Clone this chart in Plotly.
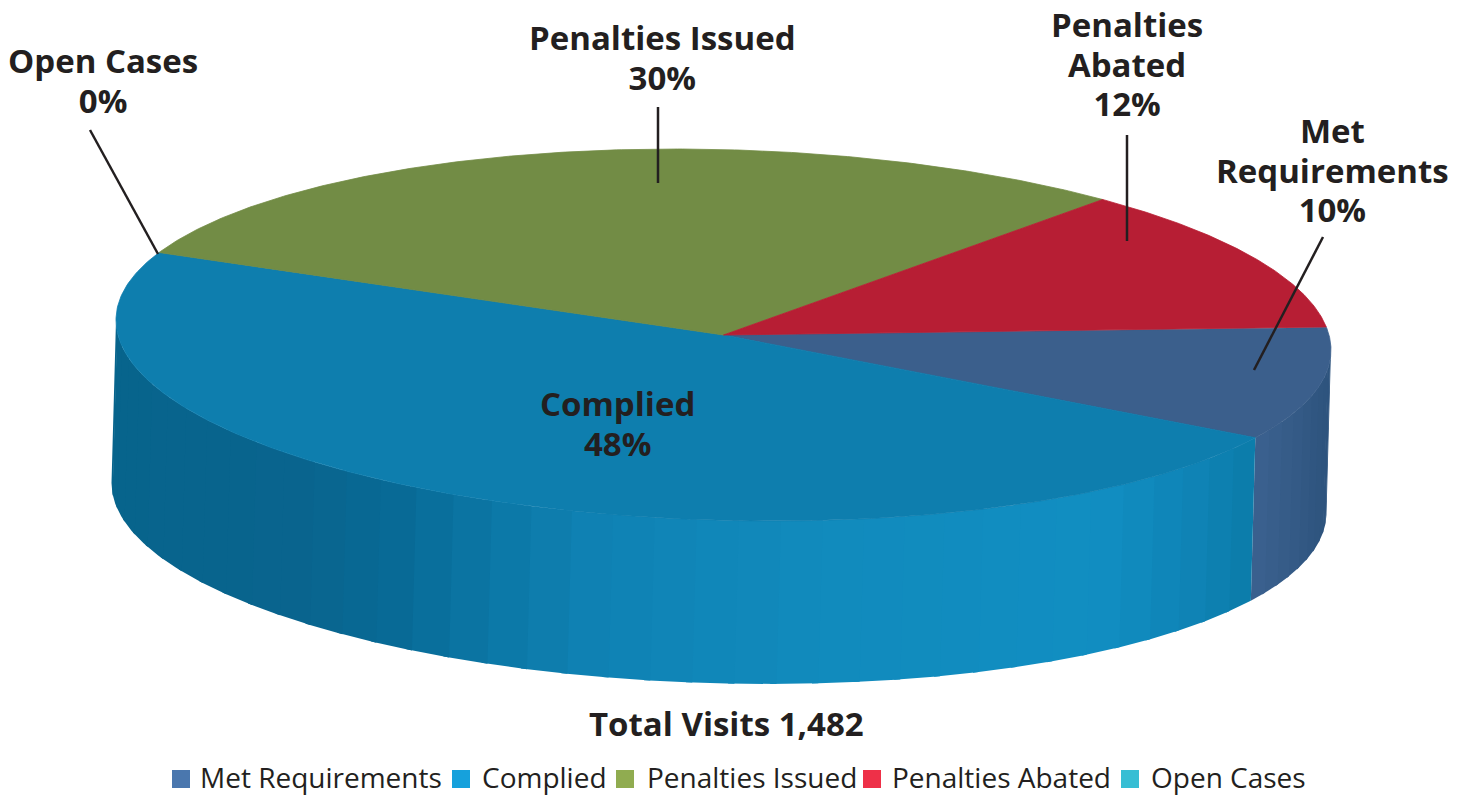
import numpy as np
import plotly.graph_objects as go

# ---- data ----
categories = ["Met Requirements", "Complied", "Penalties Issued", "Penalties Abated", "Open Cases"]
label_lines = [["Met", "Requirements"], ["Complied"], ["Penalties Issued"], ["Penalties", "Abated"], ["Open Cases"]]
percent = [10.0, 48.0, 29.7, 12.3, 0.0]
total_visits = "1,482"

# ---- style ----
W, H = 1466, 795
FONT = "Open Sans"
INK = "#231F20"
top_colors = ["#3B5F8C", "#0E7EAE", "#728C45", "#B71E34", "#2FA9BC"]
legend_colors = ["#4A77AE", "#16A1DC", "#90AC50", "#EE3048", "#37BED4"]
legend_square_x = [181, 461, 625, 872, 1130]
legend_text_x = [198, 480, 645, 890, 1149]
label_pos = [(1332, 170), (617, 423), (662, 57), (1127, 64), (103, 80)]
leaders = [((1323, 237), (1254, 370)), ((658, 107), (658, 183)),
           ((1127, 135), (1127, 241)), ((90, 130), (158, 254))]

# pie geometry (oblique projection of a unit disc)
CX, CY, AX, TILT, BY = 723.5, 335.0, 607.5, 15.0, 185.4
DX, DY = -4.5, 163.0
START = 7.1


def rim(deg, dx=0.0, dy=0.0):
    t = np.radians(deg)
    return CX + AX * np.cos(t) + dx, CY + TILT * np.cos(t) - BY * np.sin(t) + dy


def side_color(base_stops, x):
    xs = [s[0] for s in base_stops]
    rgb = [np.interp(x, xs, [s[1][i] for s in base_stops]) for i in range(3)]
    return "rgb(%d,%d,%d)" % tuple(round(v) for v in rgb)


complied_side = [(112, (7, 100, 140)), (300, (9, 100, 142)), (400, (8, 106, 150)), (500, (12, 120, 166)),
                 (600, (15, 130, 180)), (800, (17, 138, 188)), (1100, (17, 142, 194)),
                 (1190, (15, 132, 182)), (1251, (12, 124, 170))]
met_side = [(1251, (60, 98, 144)), (1290, (54, 92, 136)), (1326, (46, 84, 126))]

# slice angles, clockwise from START
shares = np.array(percent, float) / sum(percent)
ends = START - 360 * np.cumsum(shares)
starts = np.r_[START, ends[:-1]]

fig = go.Figure()


def add_poly(x, y, color, name=None, edge=0):
    fig.add_trace(go.Scatter(x=x, y=y, mode="lines", fill="toself", fillcolor=color,
                             line=dict(width=edge, color=color), hoverinfo="skip",
                             showlegend=False, name=name))


# visible wall: facets between the right-hand and left-hand silhouettes
for i, stops, step in ((0, met_side, 3.0), (1, complied_side, 4.0)):
    a0 = min(starts[i], 0.0)
    a1 = max(ends[i], -180.0)
    n = max(1, int(round((a0 - a1) / step)))
    edges = np.linspace(a0, a1, n + 1)
    for e0, e1 in zip(edges[:-1], edges[1:]):
        e1x = max(e1 - 0.6, a1)
        arc = np.linspace(e0, e1x, 12)
        xt, yt = rim(arc)
        xb, yb = rim(arc[::-1], DX, DY)
        mid = rim((e0 + e1) / 2)[0]
        add_poly(np.r_[xt, xb], np.r_[yt, yb], side_color(stops, mid), categories[i])

# top face
for i in range(len(categories)):
    if percent[i] == 0:
        continue
    arc = np.linspace(starts[i], ends[i], 240)
    xt, yt = rim(arc)
    add_poly(np.r_[CX, xt, CX], np.r_[CY, yt, CY], top_colors[i], categories[i], edge=0.8)

# legend row
fig.add_trace(go.Scatter(x=legend_square_x, y=[779] * 5, mode="markers",
                         marker=dict(symbol="square", size=18, color=legend_colors, line=dict(width=0)),
                         hoverinfo="skip", showlegend=False))


def big(line):
    return "<span style='font-size:33px'><b>%s</b></span>" % line


annotations = []
for i in range(len(categories)):
    x, y = label_pos[i]
    text = "<br>".join(big(s) for s in label_lines[i] + ["%d%%" % round(percent[i])])
    annotations.append(dict(x=x, y=y, text=text, showarrow=False, xanchor="center", yanchor="middle",
                            align="center", font=dict(family=FONT, size=30.5, color=INK)))
    annotations.append(dict(x=legend_text_x[i], y=777, text=categories[i], showarrow=False,
                            xanchor="left", yanchor="middle",
                            font=dict(family=FONT, size=28, color=INK)))
annotations.append(dict(x=726, y=723, text="<b>Total Visits %s</b>" % total_visits, showarrow=False,
                        xanchor="center", yanchor="middle", font=dict(family=FONT, size=33, color=INK)))

shapes = [dict(type="line", x0=a[0], y0=a[1], x1=b[0], y1=b[1], line=dict(color=INK, width=2.5))
          for a, b in leaders]

fig.update_layout(width=W, height=H, margin=dict(l=0, r=0, t=0, b=0), autosize=False,
                  paper_bgcolor="white", plot_bgcolor="white", showlegend=False,
                  annotations=annotations, shapes=shapes,
                  xaxis=dict(range=[0, W], visible=False, fixedrange=True),
                  yaxis=dict(range=[H, 0], visible=False, fixedrange=True))

fig.write_html("out.html", post_script="document.body.style.margin='0';document.body.style.overflow='hidden';",
               config=dict(displayModeBar=False))
